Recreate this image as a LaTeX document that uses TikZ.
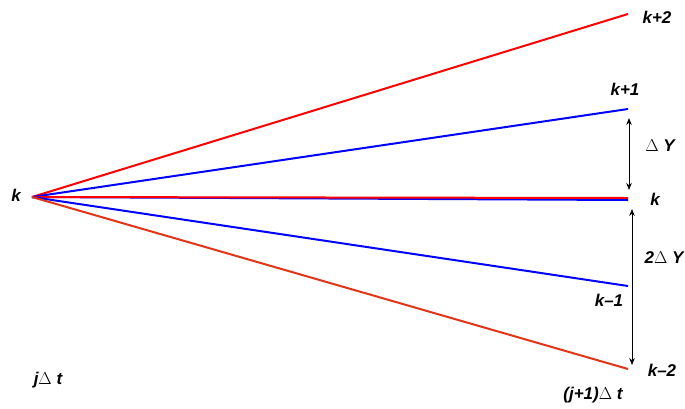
\documentclass[tikz,border=0pt]{standalone}
\usepackage{fontspec}
\setsansfont{Liberation Sans}
\usepackage{tikz}
\usetikzlibrary{arrows.meta, positioning}

\definecolor{gridred}{RGB}{255,0,0}
\definecolor{gridblue}{RGB}{0,0,255}
\definecolor{gridorange}{RGB}{226,52,22}

\newcommand{\dlt}{{\normalfont\sffamily\upshape\mdseries$\Delta$}}

\begin{document}
\begin{tikzpicture}[
    x=1pt, y=-1pt,
    font=\sffamily\bfseries\itshape\fontsize{17}{19}\selectfont,
    ray/.style={line width=2pt},
    gap/.style={{Stealth[length=7pt,width=5.5pt]}-{Stealth[length=7pt,width=5.5pt]},
                line width=0.9pt, draw=black},
    lbl/.style={inner sep=1pt},
]
\useasboundingbox (0,0) rectangle (685,408);

% --- grid points ---
\coordinate (src) at (32,197);
\coordinate (kp2) at (628,14);
\coordinate (kp1) at (628,109);
\coordinate (kb)  at (628,200);
\coordinate (kr)  at (628,198);
\coordinate (km1) at (628,286);
\coordinate (km2) at (628,369);

% --- rays ---
\draw[ray, gridred]    (src) -- (kp2);
\draw[ray, gridblue]   (src) -- (kp1);
\draw[ray, gridblue]   (src) -- (kb);
\draw[ray, gridred]    (src) -- (kr);
\draw[ray, gridblue]   (src) -- (km1);
\draw[ray, gridorange] (src) -- (km2);

% --- spacing arrows ---
\coordinate (a1) at (629,118);
\coordinate (a2) at (629,190);
\coordinate (b1) at (632,209);
\coordinate (b2) at (632,365);
\draw[gap] (a1) -- (a2);
\draw[gap] (b1) -- (b2);

% --- labels ---
\node[lbl] (lk)   at (16,195)  {k};
\node[lbl] (lkp2) at (657,17)  {k+2};
\node[lbl] (lkp1) at (625,89)  {k+1};
\node[lbl] (ldy)  at (660,146) {\dlt\ Y};
\node[lbl] (lkr)  at (655,199) {k};
\node[lbl] (l2dy) at (664,258) {2\dlt\ Y};
\node[lbl] (lkm1) at (609,300) {k--1};
\node[lbl] (lkm2) at (662,370) {k--2};
\node[lbl] (lj)   at (48,380)  {j\dlt\ t};
\node[lbl] (lj1)  at (593,395) {(j+1)\dlt\ t};

\end{tikzpicture}
\end{document}
